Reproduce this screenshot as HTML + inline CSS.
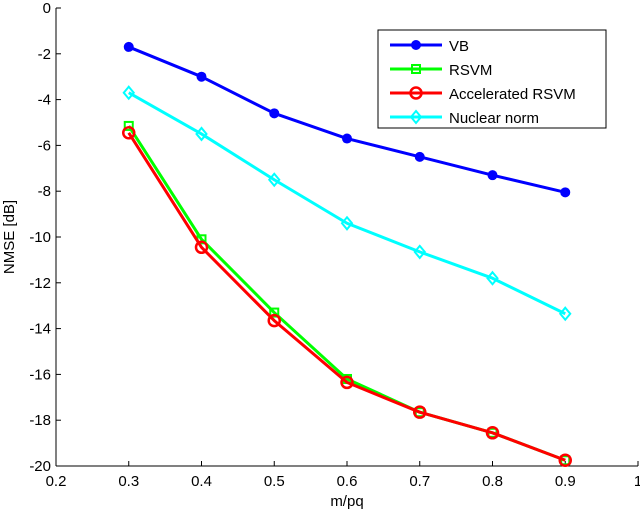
<!DOCTYPE html>
<html><head><meta charset="utf-8"><style>
body{margin:0;background:#fff;width:640px;height:513px;overflow:hidden}
svg text{font-family:"Liberation Sans",Arial,sans-serif;fill:#000}
</style></head><body>
<svg id="chart" width="640" height="513" xmlns="http://www.w3.org/2000/svg"></svg>
<script>
const xVals=[0.3,0.4,0.5,0.6,0.7,0.8,0.9];
const vb=[-1.7,-3.0,-4.6,-5.7,-6.5,-7.3,-8.05];
const rsvm=[-5.15,-10.1,-13.3,-16.2,-17.65,-18.55,-19.75];
const accRsvm=[-5.45,-10.45,-13.65,-16.35,-17.65,-18.55,-19.75];
const nuclear=[-3.7,-5.5,-7.5,-9.4,-10.65,-11.8,-13.35];
const xTicks=[0.2,0.3,0.4,0.5,0.6,0.7,0.8,0.9,1];
const xTickLabels=["0.2","0.3","0.4","0.5","0.6","0.7","0.8","0.9","1"];
const yTicks=[0,-2,-4,-6,-8,-10,-12,-14,-16,-18,-20];
const yTickLabels=["0","-2","-4","-6","-8","-10","-12","-14","-16","-18","-20"];
const L=56,R=638,T=8,B=466;
const sx=v=>L+(v-0.2)/0.8*(R-L);
const sy=v=>T+(0-v)/20*(B-T);
const svg=document.getElementById('chart');
const NS='http://www.w3.org/2000/svg';
function mk(tag,attrs,parent){const e=document.createElementNS(NS,tag);for(const k in attrs)e.setAttribute(k,attrs[k]);(parent||svg).appendChild(e);return e;}
let e=mk('line',{x1:L,y1:T,x2:L,y2:B,stroke:'#000','stroke-width':1});


e=mk('line',{x1:L,y1:B,x2:R,y2:B,stroke:'#000','stroke-width':1});


xTicks.forEach((t,i)=>{
 mk('line',{x1:sx(t),x2:sx(t),y1:B,y2:B-5,stroke:'#000'});
 const tx=mk('text',{x:sx(t),y:B+20,'text-anchor':'middle','font-size':15});
 tx.textContent=xTickLabels[i];
 
 
});
yTicks.forEach((t,i)=>{
 mk('line',{x1:L,x2:L+5,y1:sy(t),y2:sy(t),stroke:'#000'});
 const tx=mk('text',{x:L-5,y:sy(t)+5,'text-anchor':'end','font-size':15});
 tx.textContent=yTickLabels[i];
 
 
});
e=mk('text',{x:sx(0.6),y:506,'text-anchor':'middle','font-size':15});
e.textContent='m/pq';


e=mk('text',{x:0,y:0,'text-anchor':'middle','font-size':15,transform:'translate(14,'+sy(-10)+') rotate(-90)'});
e.textContent='NMSE [dB]';


function marker(kind,x,y,color,g){
 if(kind==='dot')return mk('circle',{cx:x,cy:y,r:5,fill:color},g);
 if(kind==='square')return mk('rect',{x:x-4,y:y-4,width:8,height:8,fill:'none',stroke:color,'stroke-width':2},g);
 if(kind==='circle')return mk('circle',{cx:x,cy:y,r:5.5,fill:'none',stroke:color,'stroke-width':2.5},g);
 if(kind==='diamond')return mk('polygon',{points:`${x},${y-6} ${x+5},${y} ${x},${y+6} ${x-5},${y}`,fill:'none',stroke:color,'stroke-width':2},g);
}
const series=[
 {name:'VB',vals:vb,color:'#0000ff',m:'dot',id:'series-vb'},
 {name:'RSVM',vals:rsvm,color:'#00ff00',m:'square',id:'series-rsvm'},
 {name:'Accelerated RSVM',vals:accRsvm,color:'#ff0000',m:'circle',id:'series-accelerated-rsvm'},
 {name:'Nuclear norm',vals:nuclear,color:'#00ffff',m:'diamond',id:'series-nuclear-norm'}];
series.forEach(s=>{
 const g=mk('g',{});
 
 
 mk('polyline',{points:s.vals.map((v,i)=>sx(xVals[i])+','+sy(v)).join(' '),fill:'none',stroke:s.color,'stroke-width':3,'stroke-linejoin':'round'},g);
 s.vals.forEach((v,i)=>{const p=marker(s.m,sx(xVals[i]),sy(v),s.color,g);
  
  });
});
const lg=mk('g',{});


mk('rect',{x:378,y:30,width:228,height:98,fill:'#fff',stroke:'#000'},lg);
series.forEach((s,i)=>{
 const y=45+i*24;
 const g=mk('g',{},lg);
 
 
 mk('line',{x1:390,x2:442,y1:y,y2:y,stroke:s.color,'stroke-width':3},g);
 marker(s.m,416,y,s.color,g);
 const t=mk('text',{x:449,y:y+6,'font-size':15},g);t.textContent=s.name;
});
</script>
</body></html>
